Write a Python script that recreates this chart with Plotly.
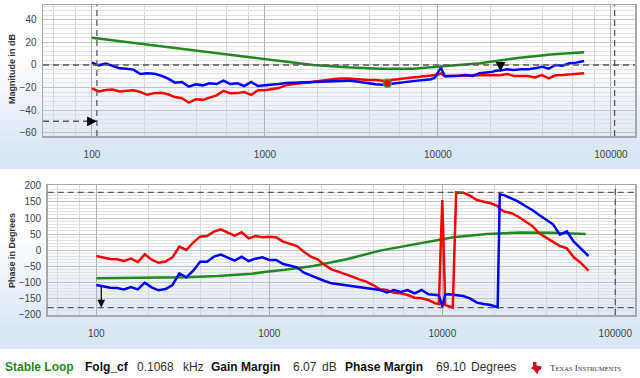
import plotly.graph_objects as go
import numpy as np

# ---------------- data ----------------
freq_hz = [100, 109.6, 120.2, 131.8, 144.5, 158.5, 173.8, 190.5, 208.9, 229.1,
           251.2, 275.4, 302.0, 331.1, 363.1, 398.1, 436.5, 478.6, 524.8, 575.4,
           631.0, 691.8, 758.6, 831.8, 912.0, 1000, 1096, 1202, 1318, 1445,
           1585, 1738, 1905, 2089, 2291, 2512, 2754, 3020, 3311, 3631,
           3981, 4365, 4786, 5248, 5754, 6310, 6918, 7586, 8318, 9120,
           9550, 10000, 10400, 10965, 11500, 12023, 13183, 14454, 15849, 17378,
           19055, 20893, 21500, 22909, 25119, 27542, 30200, 33113, 36308, 39811,
           43652, 47863, 52481, 57544, 63096, 70000]

mag_blue_db = [2.1, -0.3, 1.2, -0.9, -3.0, -3.3, -4.1, -8.0, -7.4, -7.7,
               -9.5, -12.1, -15.7, -15.1, -19.3, -17.2, -18.1, -16.3, -16.9, -13.9,
               -16.9, -16.3, -18.7, -15.1, -18.7, -18.1, -17.8, -16.9, -16.0, -15.7,
               -15.7, -15.4, -15.1, -15.1, -14.5, -13.9, -13.9, -13.9, -14.5, -15.1,
               -16.3, -17.2, -17.5, -16.9, -16.0, -15.1, -14.5, -13.9, -13.3, -12.7,
               -11.5, -7.0, -2.5, -10.0, -10.0, -9.8, -9.5, -8.9, -9.8, -7.4,
               -6.8, -5.9, -5.2, -5.0, -3.9, -4.4, -3.9, -3.9, -3.0, -1.5,
               -3.3, 0.0, -0.6, 1.5, 2.1, 3.6]

mag_red_db = [-20.7, -23.5, -22.3, -21.8, -23.5, -22.8, -22.5, -24.0, -26.5, -25.0,
              -24.6, -26.0, -28.5, -29.5, -33.5, -30.5, -31.0, -29.0, -27.0, -23.0,
              -25.2, -25.0, -24.0, -26.5, -22.5, -22.5, -21.5, -20.5, -18.1, -16.9,
              -16.3, -15.7, -14.8, -13.9, -13.3, -12.4, -12.1, -11.9, -12.4, -13.0,
              -13.3, -13.3, -13.9, -13.6, -12.7, -12.1, -11.3, -10.7, -9.8, -9.2,
              -9.0, -8.6, -7.5, -9.8, -9.8, -9.8, -9.5, -9.2, -9.8, -9.2,
              -8.9, -8.9, -9.0, -9.2, -8.0, -9.8, -9.8, -9.8, -11.0, -8.9,
              -11.9, -9.2, -8.9, -8.3, -8.0, -7.4]

phase_red_deg = [-18.8, -24.0, -28.1, -29.2, -34.4, -27.0, -37.5, -13.5, -30.2, -40.0,
                 -36.0, -23.0, 10.4, 0.0, 22.9, 41.7, 43.8, 57.3, 64.6, 54.2,
                 44.8, 55.2, 36.5, 43.8, 39.6, 41.7, 39.6, 26.0, 18.8, 12.5,
                 -5.2, -20.8, -29.2, -46.9, -60.4, -67.7, -74.0, -83.3, -91.7, -99.0,
                 -109.4, -122.9, -125.0, -133.3, -135.4, -140.6, -149.0, -151.0, -156.3, -166.7,
                 -169.0, 156.0, -172.0, -175.0, -180.0, 180.0, 179.0, 170.0, 156.0, 151.0,
                 146.0, 137.5, 128.0, 120.0, 115.0, 104.0, 89.0, 75.0, 52.0, 39.6,
                 26.0, 12.5, 5.0, -23.0, -39.6, -64.6]

phase_blue_deg = [-109.4, -113.5, -117.7, -118.8, -123.0, -115.6, -123.0, -102.1, -116.7, -126.0,
                  -122.0, -109.4, -73.0, -85.4, -64.6, -36.5, -36.5, -20.8, -14.6, -24.0,
                  -33.3, -20.8, -34.4, -27.1, -22.9, -31.3, -31.3, -43.8, -49.0, -54.2,
                  -70.8, -80.2, -88.5, -96.9, -104.2, -107.3, -109.4, -112.5, -116.7, -120.8,
                  -122.9, -125.0, -132.3, -125.0, -131.3, -125.0, -135.4, -125.0, -138.5, -140.6,
                  -141.0, -177.0, -139.0, -138.5, -140.0, -141.7, -143.7, -151.0, -164.6, -168.8,
                  -171.9, -179.0, 174.0, 170.8, 161.5, 151.0, 137.5, 125.0, 109.4, 93.8,
                  80.2, 48.0, 58.0, 26.0, 5.0, -18.8]

model_mag_freq_hz = [100, 177, 345, 671, 1023, 1221, 1901, 2965, 4624, 7169,
                     10280, 17500, 29800, 46400, 70000]
model_mag_db = [24.3, 19.6, 14.0, 8.3, 4.6, 3.2, 0.0, -2.1, -3.3, -3.3,
                -1.5, 1.5, 6.5, 9.5, 11.3]

model_phase_freq_hz = [100, 209, 326, 505, 790, 966, 1233, 1795, 2799, 4365,
                       6792, 9705, 11590, 18070, 28120, 43650, 67450]
model_phase_deg = [-88.5, -87.5, -85.5, -81.5, -74.0, -68.0, -62.0, -50.0, -29.0, -2.0,
                   18.0, 33.0, 40.0, 50.0, 55.0, 54.0, 50.0]

folg_cf_khz = 0.1068
gain_margin_db = 6.07
phase_margin_deg = 69.10
phase_cross_hz = 23000
point_freq_hz = [5105]
point_mag_db = [-16.3]

x_tick_vals = [100, 1000, 10000, 100000]
x_tick_text = ["100", "1000", "10000", "100000"]
x_minor_vals = [60, 80, 200, 400, 600, 800, 2000, 4000, 6000, 8000,
                20000, 40000, 60000, 80000]
mag_tick_vals = [-60, -40, -20, 0, 20, 40]
phase_tick_vals = [-200, -150, -100, -50, 0, 50, 100, 150, 200]

# ---------------- styling ----------------
W, H = 640, 378
FONT = "Liberation Sans, Arial, sans-serif"
GREEN = "#1f8a1f"
BLUE = "#0000ff"
RED = "#ff0000"
DASH = "#5a5a5a"
BORDER = "#a8a8a8"


def px(x):
    return x / W


def py(y):
    return 1 - y / H


folg_hz = folg_cf_khz * 1000

fig = go.Figure()

# magnitude
fig.add_trace(go.Scatter(x=model_mag_freq_hz, y=model_mag_db, mode="lines",
                         line=dict(color=GREEN, width=2.5), xaxis="x", yaxis="y"))
fig.add_trace(go.Scatter(x=freq_hz, y=mag_red_db, mode="lines",
                         line=dict(color=RED, width=2.5), xaxis="x", yaxis="y"))
fig.add_trace(go.Scatter(x=freq_hz, y=mag_blue_db, mode="lines",
                         line=dict(color=BLUE, width=2.5), xaxis="x", yaxis="y"))
fig.add_trace(go.Scatter(x=point_freq_hz, y=point_mag_db, mode="markers",
                         marker=dict(color=RED, size=8, line=dict(color="#3aa63a", width=1.5)),
                         xaxis="x", yaxis="y"))
# phase
fig.add_trace(go.Scatter(x=model_phase_freq_hz, y=model_phase_deg, mode="lines",
                         line=dict(color=GREEN, width=2.5), xaxis="x2", yaxis="y2"))
fig.add_trace(go.Scatter(x=freq_hz, y=phase_red_deg, mode="lines",
                         line=dict(color=RED, width=2.5), xaxis="x2", yaxis="y2"))
fig.add_trace(go.Scatter(x=freq_hz, y=phase_blue_deg, mode="lines",
                         line=dict(color=BLUE, width=2.5), xaxis="x2", yaxis="y2"))

x_common = dict(
    type="log", showline=True, linecolor=BORDER, linewidth=1.5, mirror=True,
    tickmode="array", tickvals=x_tick_vals, ticktext=x_tick_text,
    tickfont=dict(family=FONT, size=10, color="#444"),
    showgrid=True, gridcolor="#b0b0b0", gridwidth=1,
    ticks="outside", ticklen=8, tickcolor="rgba(0,0,0,0)",
    minor=dict(tickmode="array", tickvals=x_minor_vals, showgrid=True,
               gridcolor="#d6d6d6", gridwidth=1),
    zeroline=False, fixedrange=True, automargin=False,
)
y_common = dict(
    showline=True, linecolor=BORDER, linewidth=1.5, mirror=True,
    tickmode="array", tickfont=dict(family=FONT, size=10, color="#444"),
    showgrid=True, gridcolor="#c4c4c4", gridwidth=1,
    ticks="outside", ticklen=3, tickcolor="rgba(0,0,0,0)",
    zeroline=False, fixedrange=True, automargin=False,
)

fig.update_layout(
    width=W, height=H, margin=dict(l=0, r=0, t=0, b=0, pad=0, autoexpand=False),
    paper_bgcolor="white", plot_bgcolor="rgba(0,0,0,0)",
    showlegend=False, font=dict(family=FONT), hovermode=False,
    xaxis=dict(**x_common, domain=[px(43), px(635)], anchor="y", range=[1.717, 5.139]),
    yaxis=dict(**y_common, domain=[py(136), py(5)], anchor="x", range=[-63.1, 53.3],
               tickvals=mag_tick_vals,
               minor=dict(dtick=4, tick0=0, showgrid=True, gridcolor="#e2e2e2", gridwidth=1)),
    xaxis2=dict(**x_common, domain=[px(47.7), px(635)], anchor="y2", range=[1.719, 5.114]),
    yaxis2=dict(**y_common, domain=[py(315), py(185)], anchor="x2", range=[-203.1, 203.1],
                tickvals=phase_tick_vals,
                minor=dict(dtick=10, tick0=0, showgrid=True, gridcolor="#e2e2e2", gridwidth=1)),
)

shapes = []
# background gradient panels
c0 = np.array([255, 255, 255])
c1 = np.array([219, 230, 245])


def gradient(y_start, y_end, y_stop, n):
    h = (y_end - y_start) / n
    for i in range(n):
        t = (i + 0.5) / n
        c = (c0 + (c1 - c0) * t).astype(int)
        shapes.append(dict(type="rect", xref="paper", yref="paper", layer="below",
                           x0=0, x1=1, y0=py(y_start + (i + 1) * h + 0.5), y1=py(y_start + i * h),
                           fillcolor=f"rgb({c[0]},{c[1]},{c[2]})", line=dict(width=0)))
    shapes.append(dict(type="rect", xref="paper", yref="paper", layer="below",
                       x0=0, x1=1, y0=py(y_stop), y1=py(y_end),
                       fillcolor=f"rgb({c1[0]},{c1[1]},{c1[2]})", line=dict(width=0)))


gradient(60, 150, 169, 18)
gradient(235, 330, 349, 19)

dash_line = dict(color=DASH, width=1.3, dash="6px,4px")
# magnitude reference lines
shapes.append(dict(type="line", xref="x domain", yref="y", x0=0, x1=1, y0=0, y1=0, line=dash_line))
shapes.append(dict(type="line", xref="x", yref="y domain", x0=folg_hz, x1=folg_hz, y0=0, y1=1, line=dash_line))
shapes.append(dict(type="line", xref="x", yref="y domain", x0=105000, x1=105000, y0=0, y1=1, line=dash_line))
shapes.append(dict(type="line", xref="x", yref="y", x0=10 ** 1.717, x1=folg_hz, y0=-50, y1=-50, line=dash_line))
# phase reference lines
shapes.append(dict(type="line", xref="x2 domain", yref="y2", x0=0, x1=1, y0=180, y1=180, line=dash_line))
shapes.append(dict(type="line", xref="x2 domain", yref="y2", x0=0, x1=1, y0=-180, y1=-180, line=dash_line))
shapes.append(dict(type="line", xref="x2", yref="y2 domain", x0=100000, x1=100000, y0=0, y1=1, line=dash_line))

# TI logo (simplified state outline)
logo_pts = [(533, 362), (536.5, 362), (536.5, 365.5), (541.5, 366.5), (541, 369), (538.5, 371),
            (537.5, 374.5), (535.5, 372), (533.5, 369.5), (531, 368.5), (533, 366)]
path = "M " + " L ".join(f"{px(x):.5f},{py(y):.5f}" for x, y in logo_pts) + " Z"
shapes.append(dict(type="path", xref="paper", yref="paper", path=path,
                   fillcolor="#cc1122", line=dict(width=0)))

fig.update_layout(shapes=shapes)

ann = []
# arrows
ann.append(dict(x=np.log10(folg_hz), y=-50, xref="x", yref="y", ax=-9, ay=0, text="",
                showarrow=True, arrowhead=2, arrowsize=1.3, arrowwidth=1.5, arrowcolor="black"))
ann.append(dict(x=np.log10(phase_cross_hz), y=-gain_margin_db, xref="x", yref="y",
                ax=np.log10(phase_cross_hz), ay=0, axref="x", ayref="y", text="",
                showarrow=True, arrowhead=2, arrowsize=1.3, arrowwidth=1.5, arrowcolor="black"))
ann.append(dict(x=np.log10(folg_hz), y=-180, xref="x2", yref="y2",
                ax=np.log10(folg_hz), ay=-180 + phase_margin_deg, axref="x2", ayref="y2", text="",
                showarrow=True, arrowhead=2, arrowsize=1.3, arrowwidth=1.2, arrowcolor="black"))
# axis titles
ann.append(dict(x=px(12), y=py(69), xref="paper", yref="paper", text="<b>Magnitude in dB</b>",
                textangle=-90, showarrow=False, xanchor="center", yanchor="middle",
                font=dict(family=FONT, size=9, color="#333")))
ann.append(dict(x=px(12), y=py(251), xref="paper", yref="paper", text="<b>Phase in Degrees</b>",
                textangle=-90, showarrow=False, xanchor="center", yanchor="middle",
                font=dict(family=FONT, size=9, color="#333")))

# status line
status = [
    (3, "<b>Stable Loop</b>", GREEN),
    (83, "<b>Folg_cf</b>", "#111"),
    (135, f"{folg_cf_khz:.4f}", "#333"),
    (181, "kHz", "#333"),
    (209, "<b>Gain Margin</b>", "#111"),
    (291, f"{gain_margin_db:.2f}", "#333"),
    (320, "dB", "#333"),
    (343, "<b>Phase Margin</b>", "#111"),
    (434, f"{phase_margin_deg:.2f}", "#333"),
    (469, "Degrees", "#333"),
]
for x, t, c in status:
    ann.append(dict(x=px(x), y=py(367), xref="paper", yref="paper", text=t, showarrow=False,
                    xanchor="left", yanchor="middle", font=dict(family=FONT, size=12, color=c)))
ann.append(dict(x=px(548), y=py(368), xref="paper", yref="paper",
                text="T<span style='font-size:6.5px'>EXAS</span> I<span style='font-size:6.5px'>NSTRUMENTS</span>",
                showarrow=False, xanchor="left", yanchor="middle",
                font=dict(family="Liberation Serif, serif", size=9, color="#333")))

fig.update_layout(annotations=ann)

fig.write_html("out.html", config={"displayModeBar": False, "staticPlot": True},
               post_script="document.body.style.margin='0px';document.body.style.padding='0px';")
